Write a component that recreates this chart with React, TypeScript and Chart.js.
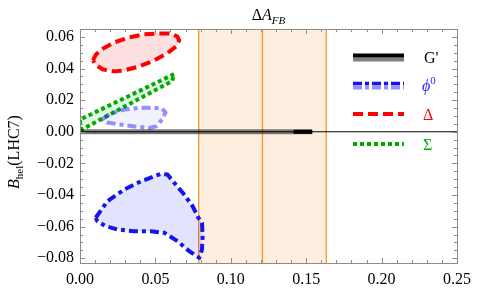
import { useEffect, useRef } from "react";
import { Chart, registerables } from "chart.js";
Chart.register(...registerables);

// ---- axes ----
const xMin = 0;
const xMax = 0.25;
const yMin = -0.083;
const yMax = 0.065;
const xTickValues = [0, 0.05, 0.1, 0.15, 0.2, 0.25];
const yTickValues = [-0.08, -0.06, -0.04, -0.02, 0, 0.02, 0.04, 0.06];

// ---- experimental band (ΔA_FB) ----
const bandLow = 0.0787;
const bandCenter = 0.121;
const bandHigh = 0.1633;

// ---- G' ----
const gPrimeLightX = [0, 0.154];
const gPrimeLightY = [0, 0];
const gPrimeDarkX = [0.1416, 0.154];
const gPrimeDarkY = [0, 0];

// ---- Δ (red ellipse) ----
const deltaX = [0.0086, 0.0106, 0.0153, 0.0226, 0.0326, 0.0426, 0.0512, 0.0592, 0.0645, 0.0658, 0.0638, 0.0578, 0.0492, 0.0392, 0.0293, 0.0226, 0.0153, 0.0106, 0.0086];
const deltaY = [0.0451, 0.0489, 0.0527, 0.0565, 0.0597, 0.0616, 0.0622, 0.0622, 0.0603, 0.0578, 0.054, 0.0496, 0.0451, 0.0413, 0.0388, 0.0382, 0.0394, 0.042, 0.0451];

// ---- Σ (green sliver) ----
const sigmaX = [0, 0.061, 0.0625, 0, 0];
const sigmaY = [0.0008, 0.032, 0.0365, 0.0077, 0.0008];

// ---- φ0 (positive, light) ----
const phiUpX = [0.0146, 0.0206, 0.0293, 0.0392, 0.0492, 0.0545, 0.0568, 0.0545, 0.0505, 0.0459, 0.0359, 0.0259, 0.018, 0.0146];
const phiUpY = [0.0078, 0.0116, 0.0141, 0.0151, 0.0152, 0.0147, 0.0122, 0.0078, 0.0034, 0.0024, 0.0034, 0.0046, 0.0059, 0.0078];

// ---- φ0 (negative, dark) ----
const phiDownX = [0.0104, 0.0182, 0.0293, 0.0404, 0.0537, 0.058, 0.0625, 0.0691, 0.0747, 0.0785, 0.0809, 0.0813, 0.0809, 0.0791, 0.0725, 0.0647, 0.0559, 0.047, 0.0359, 0.0248, 0.0171, 0.0115, 0.0104];
const phiDownY = [-0.0544, -0.0439, -0.0365, -0.0313, -0.0266, -0.027, -0.0323, -0.0397, -0.0471, -0.0544, -0.0576, -0.0661, -0.0745, -0.0797, -0.0756, -0.0692, -0.0639, -0.0629, -0.0629, -0.0618, -0.0597, -0.0566, -0.0544];

const zip = (xs: number[], ys: number[]) => xs.map((x, i) => ({ x, y: ys[i] }));

const SERIF = "'Liberation Serif', 'DejaVu Serif', serif";
const ORANGE = "rgb(250,150,40)";

type Seg = { t: string; style?: string; size: number; dy?: number; color?: string };
function drawRich(ctx: CanvasRenderingContext2D, segs: Seg[], x: number, y: number, align: "left" | "center") {
  let total = 0;
  for (const s of segs) {
    ctx.font = `${s.style || ""} ${s.size}px ${SERIF}`;
    total += ctx.measureText(s.t).width;
  }
  let cx = align === "center" ? x - total / 2 : x;
  ctx.textBaseline = "alphabetic";
  ctx.textAlign = "left";
  for (const s of segs) {
    ctx.font = `${s.style || ""} ${s.size}px ${SERIF}`;
    ctx.fillStyle = s.color || "#000";
    ctx.fillText(s.t, cx, y + (s.dy || 0));
    cx += ctx.measureText(s.t).width;
  }
}

const decor = {
  id: "decor",
  afterDraw(chart: any) {
    const { ctx, chartArea: a, scales } = chart;
    const xs = scales.x;
    const ys = scales.y;
    ctx.save();
    // frame
    ctx.strokeStyle = "#8c8c8c";
    ctx.lineWidth = 1;
    ctx.strokeRect(Math.round(a.left) + 0.5, Math.round(a.top) + 0.5, Math.round(a.right - a.left), Math.round(a.bottom - a.top));
    // ticks
    ctx.beginPath();
    for (let i = 0; i <= 25; i++) {
      const v = i * 0.01;
      const px = Math.round(xs.getPixelForValue(v)) + 0.5;
      const len = i % 5 === 0 ? 5 : 3;
      ctx.moveTo(px, a.bottom);
      ctx.lineTo(px, a.bottom - len);
      ctx.moveTo(px, a.top);
      ctx.lineTo(px, a.top + len);
    }
    for (let i = -16; i <= 13; i++) {
      const v = i * 0.005;
      const py = Math.round(ys.getPixelForValue(v)) + 0.5;
      const len = i % 4 === 0 ? 5 : 3;
      ctx.moveTo(a.left, py);
      ctx.lineTo(a.left + len, py);
      ctx.moveTo(a.right, py);
      ctx.lineTo(a.right - len, py);
    }
    ctx.stroke();

    // legend
    const lx0 = 353;
    const lx1 = 404;
    const line = (y: number, color: string, w: number, dash: number[]) => {
      ctx.beginPath();
      ctx.setLineDash(dash);
      ctx.strokeStyle = color;
      ctx.lineWidth = w;
      ctx.moveTo(lx0, y);
      ctx.lineTo(lx1, y);
      ctx.stroke();
    };
    line(59.5, "rgba(0,0,0,0.5)", 4, []);
    line(55.5, "#000", 4, []);
    line(87.5, "rgba(40,40,255,0.5)", 4, [9, 3, 4, 3]);
    line(83.5, "rgb(20,20,235)", 3.5, [9, 3, 4, 3]);
    line(114, "rgb(255,0,0)", 4, [10, 5]);
    line(144, "rgb(0,170,0)", 4, [4, 3]);
    ctx.setLineDash([]);
    drawRich(ctx, [{ t: "G'", size: 16 }], 424, 63, "left");
    drawRich(ctx, [
      { t: "ϕ", size: 16, style: "italic", color: "rgb(30,30,255)" },
      { t: "0", size: 11, dy: -7, color: "rgb(30,30,255)" },
    ], 422, 91, "left");
    drawRich(ctx, [{ t: "Δ", size: 16, color: "rgb(255,0,0)" }], 423, 120, "left");
    drawRich(ctx, [{ t: "Σ", size: 16, color: "rgb(0,170,0)" }], 423, 150, "left");

    // titles
    drawRich(ctx, [
      { t: "Δ", size: 16 },
      { t: "A", size: 16, style: "italic" },
      { t: "FB", size: 11, style: "italic", dy: 4 },
    ], (a.left + a.right) / 2, 20, "center");
    ctx.save();
    ctx.translate(19, 152);
    ctx.rotate(-Math.PI / 2);
    drawRich(ctx, [
      { t: "B", size: 16, style: "italic" },
      { t: "hel", size: 11, dy: 4 },
      { t: "(LHC7)", size: 16 },
    ], 0, 0, "center");
    ctx.restore();
    ctx.restore();
  },
};

export default function App() {
  const ref = useRef<HTMLCanvasElement>(null);
  useEffect(() => {
    const fmt = (v: number) => (Math.abs(v) < 1e-9 ? "0.00" : v.toFixed(2).replace("-", "\u2212"));
    const shape = (xs: number[], ys: number[], border: string, fill: string, w: number, dash: number[], order: number) => ({
      data: zip(xs, ys),
      showLine: true,
      fill: "shape",
      backgroundColor: fill,
      borderColor: border,
      borderWidth: w,
      borderDash: dash,
      borderJoinStyle: "round",
      pointRadius: 0,
      tension: 0,
      order,
    });
    const seg = (xs: number[], ys: number[], color: string, w: number, order: number) => ({
      data: zip(xs, ys),
      showLine: true,
      fill: false,
      borderColor: color,
      borderWidth: w,
      pointRadius: 0,
      order,
    });
    const chart = new Chart(ref.current!, {
      type: "scatter",
      data: {
        datasets: [
          {
            ...shape([bandLow, bandLow, bandHigh, bandHigh, bandLow], [yMin, yMax, yMax, yMin, yMin], "rgba(0,0,0,0)", "rgb(253,238,224)", 0, [], 20),
          },
          seg([bandLow, bandLow], [yMin, yMax], ORANGE, 1.3, 19),
          seg([bandCenter, bandCenter], [yMin, yMax], ORANGE, 1.3, 19),
          seg([bandHigh, bandHigh], [yMin, yMax], ORANGE, 1.3, 19),
          shape(deltaX, deltaY, "rgb(255,0,0)", "rgba(255,0,0,0.12)", 4, [10, 5], 10),
          shape(sigmaX, sigmaY, "rgb(0,170,0)", "rgba(0,190,0,0.12)", 4, [4, 3], 9),
          shape(phiUpX, phiUpY, "rgba(40,40,255,0.5)", "rgba(0,0,255,0.05)", 4, [9, 4, 4, 4], 8),
          shape(phiDownX, phiDownY, "rgb(20,20,235)", "rgba(0,0,255,0.11)", 4, [9, 4, 4, 4], 7),
          seg(gPrimeLightX, gPrimeLightY, "rgba(0,0,0,0.5)", 5, 6),
          seg(gPrimeDarkX, gPrimeDarkY, "#000", 4, 5),
          seg([xMin, xMax], [0, 0], "#000", 1, 4),
        ] as any,
      },
      options: {
        animation: false,
        responsive: false,
        devicePixelRatio: 1,
        events: [],
        layout: { padding: { top: 29, right: 20, left: 0, bottom: 0 } },
        plugins: { legend: { display: false }, tooltip: { enabled: false } },
        scales: {
          x: {
            type: "linear",
            min: xMin,
            max: xMax,
            grid: { display: false, drawTicks: false },
            border: { display: false },
            afterBuildTicks: (s: any) => {
              s.ticks = xTickValues.map((v) => ({ value: v }));
            },
            afterFit: (s: any) => {
              s.height = 26;
            },
            ticks: {
              autoSkip: false,
              maxRotation: 0,
              padding: 7,
              color: "#000",
              font: { family: SERIF, size: 16 },
              callback: (v: any) => fmt(Number(v)),
            },
          },
          y: {
            type: "linear",
            min: yMin,
            max: yMax,
            grid: { display: false, drawTicks: false },
            border: { display: false },
            afterBuildTicks: (s: any) => {
              s.ticks = yTickValues.map((v) => ({ value: v }));
            },
            afterFit: (s: any) => {
              s.width = 80;
            },
            ticks: {
              autoSkip: false,
              padding: 6,
              color: "#000",
              font: { family: SERIF, size: 16 },
              callback: (v: any) => fmt(Number(v)),
            },
          },
        },
      } as any,
      plugins: [decor],
    });
    return () => chart.destroy();
  }, []);
  return (
    <div style={{ position: "fixed", left: 0, top: 0, width: 478, height: 289, background: "#fff" }}>
      <canvas ref={ref} width={478} height={289} />
    </div>
  );
}
